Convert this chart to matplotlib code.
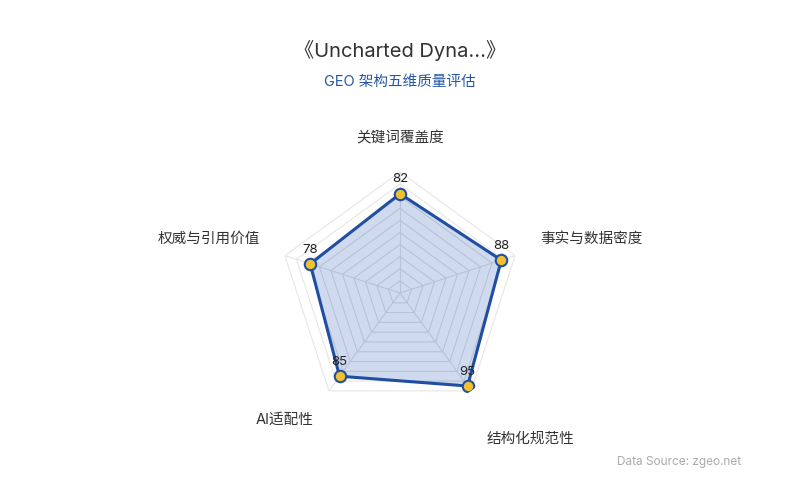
import numpy as np
import matplotlib.pyplot as plt

plt.rcParams['font.family'] = ['Inter', 'Noto Sans CJK SC', 'DejaVu Sans']

# 数据
dimensions = ['关键词覆盖度', '事实与数据密度', '结构化规范性', 'AI适配性', '权威与引用价值']
scores = [82, 88, 95, 85, 78]
max_score = 100
levels = list(range(10, 101, 10))

title = '《Uncharted Dyna...》'
subtitle = 'GEO 架构五维质量评估'
source = 'Data Source: zgeo.net'

line_color = '#1f4ea3'
fill_color = '#a9bde0'
marker_color = '#f2c12e'
grid_color = '#e6e6e6'
inner_grid = '#b4c1d8'

fig = plt.figure(figsize=(8, 5), dpi=100)
ax = fig.add_axes([0.34875, 0.172, 0.3025, 0.484], projection='polar')
ax.set_theta_offset(np.pi / 2)
ax.set_theta_direction(-1)
ax.set_ylim(0, max_score)
ax.grid(False)
ax.spines['polar'].set_visible(False)
ax.set_xticks([])
ax.set_yticks([])
ax.patch.set_alpha(0)

angles = np.linspace(0, 2 * np.pi, len(dimensions), endpoint=False)
closed = np.append(angles, angles[0])
vals = scores + scores[:1]

# 多边形网格（外部浅色）
for lv in levels:
    ax.plot(closed, [lv] * len(closed), color=grid_color, lw=0.8, zorder=1)
for a in angles:
    ax.plot([a, a], [0, max_score], color=grid_color, lw=0.8, zorder=1)

# 数据区域
area = ax.fill(closed, vals, color=fill_color, alpha=0.55, zorder=2)[0]

# 区域内部网格
for lv in levels:
    ln, = ax.plot(closed, [lv] * len(closed), color=inner_grid, lw=0.6, zorder=2.5)
    ln.set_clip_path(area)
for a in angles:
    ln, = ax.plot([a, a], [0, max_score], color=inner_grid, lw=0.6, zorder=2.5)
    ln.set_clip_path(area)

ax.plot(closed, vals, color=line_color, lw=2.2, zorder=3)
ax.scatter(angles, scores, s=68, color=marker_color, edgecolor=line_color,
           linewidth=1.5, zorder=4)

# 数值标签
for a, v in zip(angles, scores):
    ax.annotate(str(v), (a, v), xytext=(0, 6), textcoords='offset points',
                ha='center', va='bottom', fontsize=9.5, color='#222222', zorder=5)

# 维度标签（相对外圈顶点的偏移，单位 pt）
label_offsets = [(0, 24.5), (55, 12), (42.5, -34.5), (-32, -21), (-55, 12)]
for name, a, (dx, dy) in zip(dimensions, angles, label_offsets):
    ax.annotate(name, (a, max_score), xytext=(dx, dy),
                textcoords='offset points', ha='center', va='center',
                fontsize=10.5, color='#333333', annotation_clip=False)

fig.text(0.5, 0.9, title, ha='center', va='center', fontsize=14.5, color='#333333')
fig.text(0.5, 0.836, subtitle, ha='center', va='center', fontsize=10.5, color='#2456a6')
fig.text(0.926, 0.076, source, ha='right', va='center', fontsize=8.5, color='#aaaaaa')

fig.savefig('out.png', dpi=100, facecolor='white')
